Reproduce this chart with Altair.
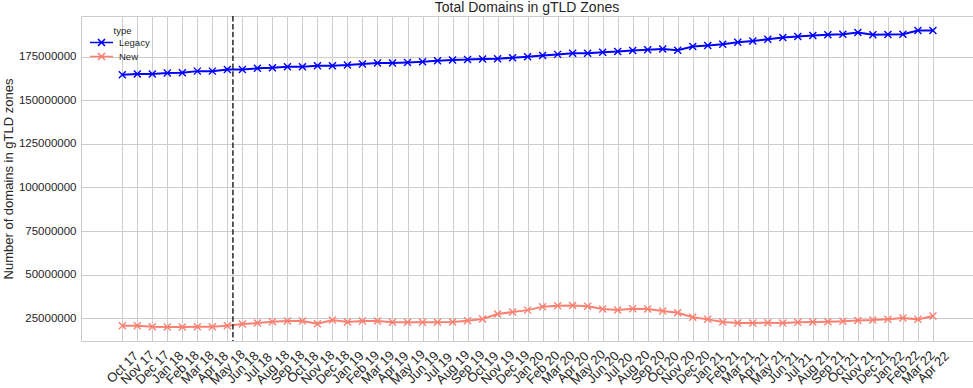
import json
import altair as alt
import pandas as pd

months = [
    "Oct 17", "Nov 17", "Dec 17",
    "Jan 18", "Feb 18", "Mar 18", "Apr 18", "May 18", "Jun 18", "Jul 18", "Aug 18", "Sep 18", "Oct 18", "Nov 18", "Dec 18",
    "Jan 19", "Feb 19", "Mar 19", "Apr 19", "May 19", "Jun 19", "Jul 19", "Aug 19", "Sep 19", "Oct 19", "Nov 19", "Dec 19",
    "Jan 20", "Feb 20", "Mar 20", "Apr 20", "May 20", "Jun 20", "Jul 20", "Aug 20", "Sep 20", "Oct 20", "Nov 20", "Dec 20",
    "Jan 21", "Feb 21", "Mar 21", "Apr 21", "May 21", "Jun 21", "Jul 21", "Aug 21", "Sep 21", "Oct 21", "Nov 21", "Dec 21",
    "Jan 22", "Feb 22", "Mar 22", "Apr 22",
]

# values in millions of domains
legacy_m = [
    164.6, 165.0, 165.0,
    165.6, 165.8, 166.7, 166.7, 167.7, 167.7, 168.3, 168.6, 169.2, 169.2, 169.8, 169.8,
    170.2, 170.8, 171.3, 171.3, 171.7, 172.1, 172.7, 173.1, 173.3, 173.7, 173.8, 174.4,
    174.9, 175.6, 176.3, 176.9, 176.9, 177.5, 177.9, 178.5, 179.0, 179.4, 178.7, 180.8,
    181.4, 182.1, 183.3, 184.0, 185.0, 186.0, 186.5, 187.1, 187.5, 187.9, 188.9, 187.5,
    187.7, 187.9, 190.0, 190.0,
]

new_m = [
    20.8, 20.8, 20.2,
    20.0, 20.0, 20.2, 20.2, 20.8, 21.7, 22.3, 23.1, 23.5, 23.5, 21.9, 24.0,
    22.9, 23.5, 23.5, 22.7, 22.7, 22.7, 22.7, 22.9, 23.6, 24.6, 27.5, 28.6,
    29.7, 31.7, 32.2, 32.4, 31.9, 30.3, 29.8, 30.5, 30.3, 29.2, 28.2, 25.6,
    24.4, 22.9, 22.3, 22.3, 22.5, 22.3, 22.7, 22.9, 23.1, 23.3, 23.8, 24.0,
    24.4, 25.2, 24.4, 26.3,
]

series_names = ["Legacy", "New"]
series_colors = ["blue", "salmon"]
y_ticks = [25000000, 50000000, 75000000, 100000000, 125000000, 150000000, 175000000]
marker_line_pos = [7.37]  # vertical dashed marker, between May 18 and Jun 18

rows = []
for i, m in enumerate(months):
    rows.append({"idx": i, "month": m, "type": "Legacy", "domains": legacy_m[i] * 1e6})
    rows.append({"idx": i, "month": m, "type": "New", "domains": new_m[i] * 1e6})
df = pd.DataFrame(rows)

FONT = "Liberation Sans"
TXT = "#262626"
label_expr = json.dumps(months) + "[datum.value]"

x_scale = alt.Scale(domain=[-2.75, 56.67], nice=False, zero=False)
x_axis = alt.Axis(
    values=list(range(len(months))),
    labelExpr=label_expr,
    title=None,
    labelAngle=315,
    labelAlign="center",
    labelBaseline="middle",
    labelPadding=26,
    labelOverlap=False,
    labelFlush=False,
    labelBound=False,
    labelFontSize=13,
)
y_scale = alt.Scale(domain=[12.0e6, 198.3e6], nice=False, zero=False)
y_axis = alt.Axis(
    values=y_ticks,
    format="d",
    title="Number of domains in gTLD zones",
    labelFontSize=11.5,
    labelPadding=5,
    titleFontSize=13,
    titlePadding=3,
)
x_enc = alt.X("idx:Q", scale=x_scale, axis=x_axis)
y_enc = alt.Y("domains:Q", scale=y_scale, axis=y_axis)
color_scale = alt.Scale(domain=series_names, range=series_colors)

legend_path = "M-2.3,0L2.3,0M-0.7,-0.7L0.7,0.7M-0.7,0.7L0.7,-0.7"

legend = alt.Legend(
    title="type",
    orient="none",
    legendX=14.5,
    legendY=10,
    symbolType=legend_path,
    symbolSize=100,
    symbolStrokeWidth=1.6,
    labelFontSize=9.5,
    titleFontSize=9.5,
    titleFontWeight="normal",
    labelOffset=11.5,
    rowPadding=0,
    titlePadding=1,
    titleAnchor="middle",
    padding=0,
)

line = alt.Chart(df).mark_line(strokeWidth=2).encode(
    x=x_enc,
    y=y_enc,
    color=alt.Color("type:N", scale=color_scale, legend=legend),
)

points = alt.Chart(df).mark_point(
    shape="M-1,-1L1,1M-1,1L1,-1", filled=False, size=49, strokeWidth=1.4, opacity=1
).encode(
    x=x_enc,
    y=y_enc,
    color=alt.Color("type:N", scale=color_scale, legend=legend),
)

rule = alt.Chart(pd.DataFrame({"idx": marker_line_pos})).mark_rule(
    color="#262626", strokeDash=[5.5, 2.4], strokeWidth=1.5
).encode(x=x_enc)

chart = (
    alt.layer(line, points, rule)
    .properties(
        width=892,
        height=325,
        title=alt.TitleParams("Total Domains in gTLD Zones", frame="group", anchor="middle", dy=4),
        autosize=alt.AutoSizeParams(type="none"),
        padding={"left": 81, "top": 16, "right": 0, "bottom": 47},
    )
    .configure_view(stroke="#cccccc", strokeWidth=1)
    .configure_axis(
        grid=True,
        gridColor="#cccccc",
        gridWidth=1,
        domain=False,
        ticks=False,
        tickSize=0,
        labelFont=FONT,
        titleFont=FONT,
        labelColor=TXT,
        titleColor=TXT,
        titleFontWeight="normal",
    )
    .configure_legend(labelFont=FONT, titleFont=FONT, labelColor=TXT, titleColor=TXT)
    .configure_title(font=FONT, fontSize=14, fontWeight="normal", color=TXT, offset=4)
)

chart.save("out.html", embed_options={"renderer": "svg", "actions": False})
